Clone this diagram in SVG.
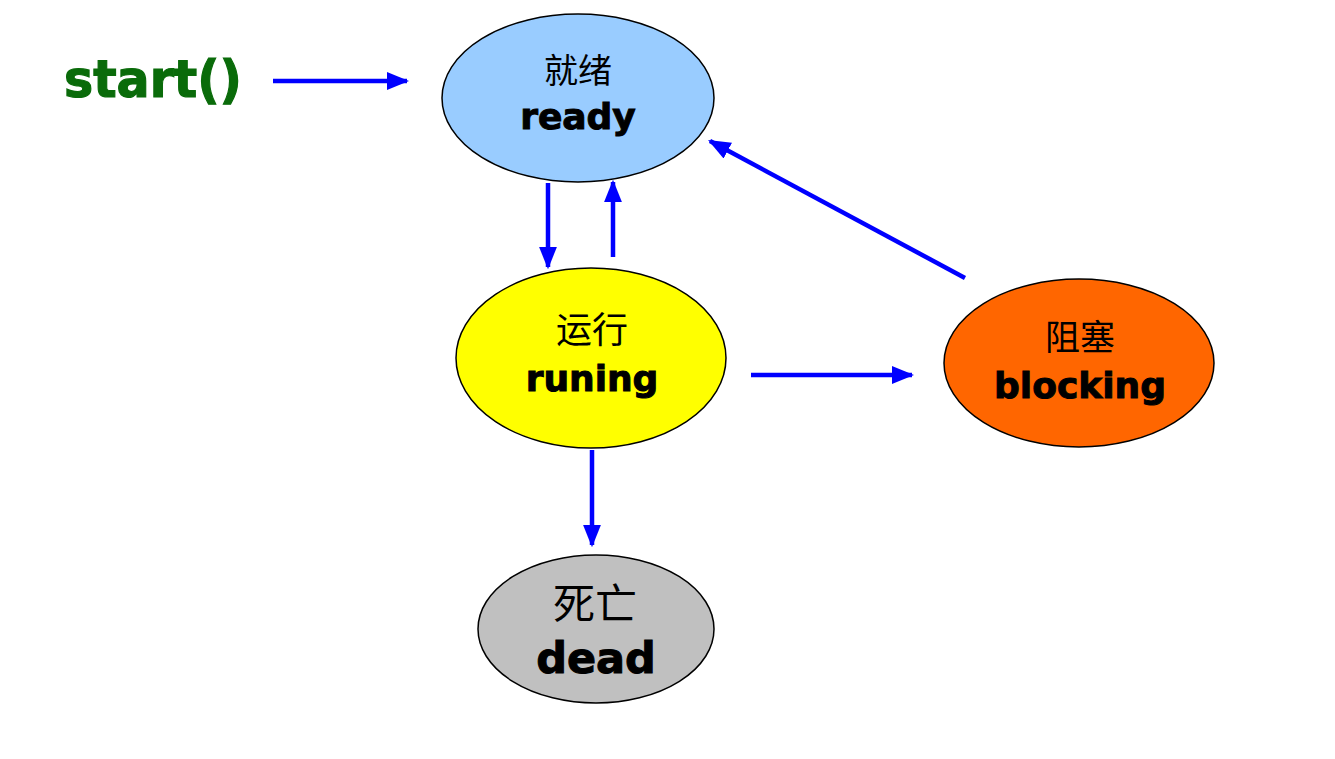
<svg xmlns="http://www.w3.org/2000/svg" width="1335" height="759" viewBox="0 0 1335 759">
<defs>
<style>
.node{stroke:#000;stroke-width:1.5}
.cn{font-family:"Noto Sans CJK SC","Noto Sans",sans-serif;fill:#000;text-anchor:middle}
.en{font-family:"DejaVu Sans",Verdana,sans-serif;font-weight:bold;fill:#000;stroke:#000;stroke-width:1;text-anchor:middle}
.edge{stroke:#0000FF;stroke-width:4.5;fill:none;marker-end:url(#ah)}
</style>
<marker id="ah" viewBox="0 0 10 10" refX="9" refY="5" markerWidth="5" markerHeight="4" orient="auto" markerUnits="strokeWidth" preserveAspectRatio="none">
<path d="M0,0 L10,5 L0,10 z" fill="#0000FF"/>
</marker>
</defs>
<rect width="1335" height="759" fill="#fff"/>
<g id="start">
<text x="64" y="97" font-family="DejaVu Sans,Verdana,sans-serif" font-weight="bold" font-size="51" fill="#0A6B0A" stroke="#0A6B0A" stroke-width="1.2" textLength="178" lengthAdjust="spacingAndGlyphs">start()</text>
</g>
<g id="connectors">
<line class="edge" x1="273" y1="81" x2="407" y2="81"/>
<line class="edge" x1="548" y1="183" x2="548" y2="267"/>
<line class="edge" x1="613" y1="257" x2="613" y2="182"/>
<line class="edge" x1="965" y1="278" x2="710" y2="141"/>
<line class="edge" x1="751" y1="375" x2="912" y2="375"/>
<line class="edge" x1="592" y1="450" x2="592" y2="545"/>
</g>
<g id="ready">
<ellipse class="node" cx="578" cy="98" rx="136" ry="84" fill="#99CCFF"/>
<text class="cn" x="578" y="83" font-size="34">就绪</text>
<text class="en" x="578" y="129" font-size="36">ready</text>
</g>
<g id="runing">
<ellipse class="node" cx="591" cy="358" rx="135" ry="90" fill="#FFFF00"/>
<text class="cn" x="592" y="343" font-size="36">运行</text>
<text class="en" x="592" y="391" font-size="36">runing</text>
</g>
<g id="blocking">
<ellipse class="node" cx="1079" cy="363" rx="135" ry="84" fill="#FF6600"/>
<text class="cn" x="1080" y="350" font-size="35">阻塞</text>
<text class="en" x="1080" y="398" font-size="36">blocking</text>
</g>
<g id="dead">
<ellipse class="node" cx="596" cy="629" rx="118" ry="74" fill="#C0C0C0"/>
<text class="cn" x="595" y="619" font-size="42">死亡</text>
<text class="en" x="596" y="673" font-size="43">dead</text>
</g>
</svg>
